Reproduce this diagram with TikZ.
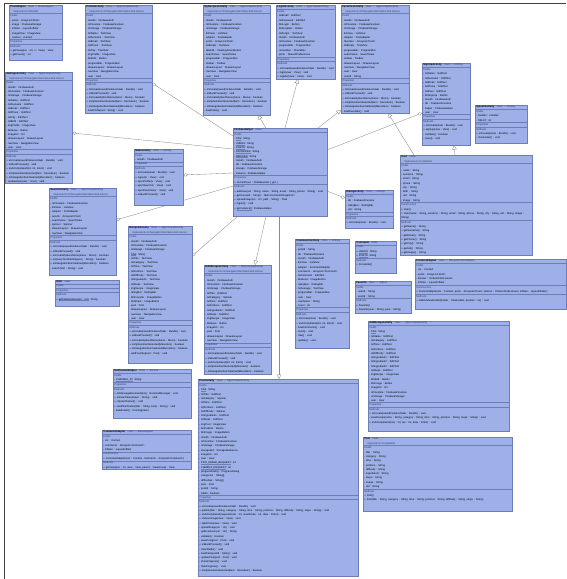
\documentclass[tikz,border=0pt]{standalone}
\usepackage{fontspec}
\newfontfamily\uf{Liberation Sans}
\usetikzlibrary{arrows.meta,calc,backgrounds}
\definecolor{boxfill}{HTML}{9DB1E8}
\definecolor{boxline}{HTML}{6E7DB5}
\definecolor{hdcol}{HTML}{2F3A60}
\definecolor{connline}{HTML}{8C8C8C}
\newcommand\uL[1]{#1\par}
\newcommand\uH[1]{\par\vspace{0.7pt}{\color{boxline}\hrule height 0.3pt}\vspace{1.2pt}{\color{hdcol}#1}\par}
\newcommand\uT[2]{\textbf{#1}\hspace{2.5pt}{\color{hdcol}#2}\par}
\newcommand\uS[1]{\hspace*{3pt}{\color{hdcol}#1}\par}
\newcommand\uU[1]{\setbox0\hbox{#1}\rlap{\raisebox{-0.5pt}{\color{boxline}\rule{\wd0}{0.08pt}}}\box0}
\newcommand\umlbox[6]{%
  \node[ubox, minimum width=#4pt, minimum height=#5pt] (#1) at (#2,#3) {};
  \node[utext, text width=#4pt] (#1-t) at (#1.north west) {\leftskip=1.2pt #6};
}
\begin{document}
\begin{tikzpicture}[x=1pt,y=-1pt,
  ubox/.style={draw=boxline, fill=boxfill, line width=0.4pt, anchor=north west, inner sep=0pt, outer sep=0pt},
  utext/.style={anchor=north west, inner xsep=0pt, inner ysep=0.8pt, align=left, font=\uf\fontsize{2.6}{4.3}\selectfont},
  conn/.style={draw=connline, line width=0.35pt},
  adia/.style={{Diamond[open,length=5pt,width=3.2pt]}-},
  atri/.style={{Triangle[open,length=4.5pt,width=4.5pt]}-}]
\useasboundingbox (0,0) rectangle (566,579);

% frame
\draw[black!75, line width=0.8pt] (4,579) -- (4,3) -- (566,3);

\umlbox{A}{9}{5}{53}{55}{%
\uT{PostAdapter}{class → BaseAdapter}
\uS{Implements Filterable}
\uH{Fields}
\uL{- posts : ArrayList<Post>}
\uL{- image : FirebaseStorage}
\uL{- inflater : LayoutInflater}
\uL{- imageView : ImageView}
\uL{- context : Context}
\uH{Properties}
\uH{Methods}
\uL{+ getView(pos : int, v : View) : View}
\uL{+ getCount() : int}}

\umlbox{B}{85}{5}{67}{108}{%
\uT{ProfileActivity}{class → AppCompatActivity}
\uS{Implements OnNavigationItemSelectedListener}
\uH{Fields}
\uL{- mAuth : FirebaseAuth}
\uL{- mFirestore : FirebaseFirestore}
\uL{- mStorage : FirebaseStorage}
\uL{- txtName : TextView}
\uL{- txtSurname : TextView}
\uL{- txtEmail : TextView}
\uL{- txtPhone : TextView}
\uL{- txtCity : TextView}
\uL{- imgProfile : ImageView}
\uL{- btnEdit : Button}
\uL{- progressBar : ProgressBar}
\uL{- drawerLayout : DrawerLayout}
\uL{- navView : NavigationView}
\uL{- user : User}
\uH{Properties}
\uH{Methods}
\uL{+ onCreate(savedInstanceState : Bundle) : void}
\uL{+ onBackPressed() : void}
\uL{+ onCreateOptionsMenu(menu : Menu) : boolean}
\uL{+ onOptionsItemSelected(item : MenuItem) : boolean}
\uL{+ onNavigationItemSelected(MenuItem) : boolean}
\uL{- loadProfile(uid : String) : void}}

\umlbox{C}{5}{72}{67}{111}{%
\uT{SettingsActivity}{class → AppCompatActivity}
\uS{Implements OnNavigationItemSelectedListener}
\uH{Fields}
\uL{- mAuth : FirebaseAuth}
\uL{- mFirestore : FirebaseFirestore}
\uL{- mStorage : FirebaseStorage}
\uL{- txtName : EditText}
\uL{- txtSurname : EditText}
\uL{- txtEmail : EditText}
\uL{- txtPhone : EditText}
\uL{- txtCity : EditText}
\uL{- txtBirth : EditText}
\uL{- imgProfile : ImageView}
\uL{- btnSave : Button}
\uL{- imageUri : Uri}
\uL{- drawerLayout : DrawerLayout}
\uL{- navView : NavigationView}
\uL{- user : User}
\uH{Properties}
\uH{Methods}
\uL{+ onCreate(savedInstanceState : Bundle) : void}
\uL{+ onBackPressed() : void}
\uL{+ onActivityResult(int, int, Intent) : void}
\uL{+ onOptionsItemSelected(item : MenuItem) : boolean}
\uL{+ onNavigationItemSelected(MenuItem) : boolean}
\uL{- updateUser(user : User) : void}}

\umlbox{D}{203}{5}{67}{110}{%
\uT{MyRecipesActivity}{class → AppCompatActivity}
\uS{Implements OnNavigationItemSelectedListener}
\uH{Fields}
\uL{- mAuth : FirebaseAuth}
\uL{- mFirestore : FirebaseFirestore}
\uL{- mStorage : FirebaseStorage}
\uL{- listView : ListView}
\uL{- adapter : PostAdapter}
\uL{- posts : ArrayList<Post>}
\uL{- txtEmpty : TextView}
\uL{- fabAdd : FloatingActionButton}
\uL{- searchView : SearchView}
\uL{- progressBar : ProgressBar}
\uL{- toolbar : Toolbar}
\uL{- drawerLayout : DrawerLayout}
\uL{- navView : NavigationView}
\uL{- user : User}
\uH{Properties}
\uH{Methods}
\uL{+ onCreate(savedInstanceState : Bundle) : void}
\uL{+ onBackPressed() : void}
\uL{+ onCreateOptionsMenu(menu : Menu) : boolean}
\uL{+ onOptionsItemSelected(item : MenuItem) : boolean}
\uL{+ onNavigationItemSelected(MenuItem) : boolean}
\uL{- loadPosts() : void}}

\umlbox{E}{276}{5}{59}{74}{%
\uT{LoginActivity}{class → AppCompatActivity}
\uH{Fields}
\uL{- txtEmail : EditText}
\uL{- txtPassword : EditText}
\uL{- btnLogin : Button}
\uL{- btnRegister : Button}
\uL{- txtForgot : TextView}
\uL{- mAuth : FirebaseAuth}
\uL{- mFirestore : FirebaseFirestore}
\uL{- progressBar : ProgressBar}
\uL{- remember : CheckBox}
\uL{- prefs : SharedPreferences}
\uH{Properties}
\uH{Methods}
\uL{+ onCreate(savedInstanceState : Bundle) : void}
\uL{+ login(view : View) : void}
\uL{+ register(view : View) : void}}

\umlbox{F}{341}{5}{68}{108}{%
\uT{FavoritesActivity}{class → AppCompatActivity}
\uS{Implements OnNavigationItemSelectedListener}
\uH{Fields}
\uL{- mAuth : FirebaseAuth}
\uL{- mFirestore : FirebaseFirestore}
\uL{- mStorage : FirebaseStorage}
\uL{- listView : ListView}
\uL{- adapter : PostAdapter}
\uL{- favorites : ArrayList<Post>}
\uL{- txtEmpty : TextView}
\uL{- progressBar : ProgressBar}
\uL{- searchView : SearchView}
\uL{- toolbar : Toolbar}
\uL{- drawerLayout : DrawerLayout}
\uL{- navView : NavigationView}
\uL{- user : User}
\uL{- userId : String}
\uH{Properties}
\uH{Methods}
\uL{+ onCreate(savedInstanceState : Bundle) : void}
\uL{+ onBackPressed() : void}
\uL{+ onCreateOptionsMenu(menu : Menu) : boolean}
\uL{+ onOptionsItemSelected(item : MenuItem) : boolean}
\uL{+ onNavigationItemSelected(MenuItem) : boolean}
\uL{- loadFavorites() : void}}

\umlbox{G}{233}{128}{94}{88}{%
\uT{FirebaseHelper}{class}
\uH{Fields}
\uL{- \uU{TAG} : String}
\uL{- \uU{USERS} : String}
\uL{- \uU{POSTS} : String}
\uL{- \uU{FAVORITES} : String}
\uL{- \uU{RECIPES} : String}
\uL{- mAuth : FirebaseAuth}
\uL{- db : FirebaseFirestore}
\uL{- storage : FirebaseStorage}
\uL{- \uU{instance} : FirebaseHelper}
\uH{Properties}
\uL{+ CurrentUser : FirebaseUser \{ get; \}}
\uH{Methods}
\uL{+ addUser(uid : String, name : String, email : String, phone : String) : void}
\uL{+ getUser(uid : String) : Task<DocumentSnapshot>}
\uL{+ uploadImage(uri : Uri, path : String) : Task}
\uL{+ logout() : void}
\uL{+ \uU{getInstance()} : FirebaseHelper}}

\umlbox{H}{422}{63}{48}{82}{%
\uT{SignUpActivity}{class → Activity}
\uH{Fields}
\uL{- txtName : EditText}
\uL{- txtSurname : EditText}
\uL{- txtEmail : EditText}
\uL{- txtPhone : EditText}
\uL{- txtPass : EditText}
\uL{- btnSignUp : Button}
\uL{- mAuth : FirebaseAuth}
\uL{- db : FirebaseFirestore}
\uL{- helper : FirebaseHelper}
\uL{- user : User}
\uH{Properties}
\uH{Methods}
\uL{+ onCreate(state : Bundle) : void}
\uL{+ signUp(view : View) : void}
\uL{- validate() : boolean}
\uL{- clear() : void}}

\umlbox{I}{475}{105}{52}{38}{%
\uT{SplashActivity}{class → Activity}
\uH{Fields}
\uL{- handler : Handler}
\uL{- \uU{DELAY} : int}
\uH{Properties}
\uH{Methods}
\uL{+ onCreate(state : Bundle) : void}
\uL{- checkUser() : void}}

\umlbox{J}{134}{149}{49}{56}{%
\uT{MainActivity}{class → Activity}
\uH{Fields}
\uL{- mAuth : FirebaseAuth}
\uH{Properties}
\uH{Methods}
\uL{+ onCreate(state : Bundle) : void}
\uL{+ logout(v : View) : void}
\uL{+ openProfile(v : View) : void}
\uL{+ openSearch(v : View) : void}
\uL{+ openFavorites(v : View) : void}
\uL{+ onBackPressed() : void}}

\umlbox{K}{49}{188}{67}{87}{%
\uT{SearchActivity}{class → AppCompatActivity}
\uS{Implements OnNavigationItemSelectedListener}
\uH{Fields}
\uL{- mFirestore : FirebaseFirestore}
\uL{- listView : ListView}
\uL{- adapter : PostAdapter}
\uL{- results : ArrayList<Post>}
\uL{- searchView : SearchView}
\uL{- spinner : Spinner}
\uL{- drawerLayout : DrawerLayout}
\uL{- navView : NavigationView}
\uH{Properties}
\uH{Methods}
\uL{+ onCreate(savedInstanceState : Bundle) : void}
\uL{+ onBackPressed() : void}
\uL{+ onCreateOptionsMenu(menu : Menu) : boolean}
\uL{+ onQueryTextSubmit(query : String) : boolean}
\uL{+ onNavigationItemSelected(MenuItem) : boolean}
\uL{- search(text : String) : void}}

\umlbox{L}{128}{226}{64}{137}{%
\uT{RecipesActivity}{class → AppCompatActivity}
\uS{Implements OnNavigationItemSelectedListener}
\uH{Fields}
\uL{- mAuth : FirebaseAuth}
\uL{- mFirestore : FirebaseFirestore}
\uL{- mStorage : FirebaseStorage}
\uL{- \uU{TAG} : String}
\uL{- txtTitle : TextView}
\uL{- txtCategory : TextView}
\uL{- txtTime : TextView}
\uL{- txtPortions : TextView}
\uL{- txtDifficulty : TextView}
\uL{- txtIngredients : TextView}
\uL{- txtSteps : TextView}
\uL{- imgRecipe : ImageView}
\uL{- ratingBar : RatingBar}
\uL{- btnFavorite : ImageButton}
\uL{- btnShare : ImageButton}
\uL{- post : Post}
\uL{- drawerLayout : DrawerLayout}
\uL{- navView : NavigationView}
\uL{- user : User}
\uH{Properties}
\uH{Methods}
\uL{+ onCreate(savedInstanceState : Bundle) : void}
\uL{+ onBackPressed() : void}
\uL{+ onCreateOptionsMenu(menu : Menu) : boolean}
\uL{+ onOptionsItemSelected(MenuItem) : boolean}
\uL{+ onNavigationItemSelected(MenuItem) : boolean}
\uL{- addFavorite(post : Post) : void}}

\umlbox{M}{55}{280}{64}{26}{%
\uT{Utils}{class}
\uH{Fields}
\uH{Properties}
\uH{Methods}
\uL{+ \uU{getFileExtension(uri : Uri)} : String}}

\umlbox{N}{345}{190}{48}{38}{%
\uT{RatingActivity}{class → Activity}
\uH{Fields}
\uL{- db : FirebaseFirestore}
\uL{- ratingBar : RatingBar}
\uL{- uid : String}
\uH{Properties}
\uH{Methods}
\uL{+ onCreate(state : Bundle) : void}}

\umlbox{O}{204}{265}{67}{109}{%
\uT{EditRecipeActivity}{class → AppCompatActivity}
\uS{Implements OnNavigationItemSelectedListener}
\uH{Fields}
\uL{- mAuth : FirebaseAuth}
\uL{- mFirestore : FirebaseFirestore}
\uL{- mStorage : FirebaseStorage}
\uL{- txtTitle : EditText}
\uL{- txtCategory : Spinner}
\uL{- txtTime : EditText}
\uL{- txtPortions : EditText}
\uL{- txtIngredients : EditText}
\uL{- txtSteps : EditText}
\uL{- imgRecipe : ImageView}
\uL{- btnSave : Button}
\uL{- imageUri : Uri}
\uL{- post : Post}
\uL{- drawerLayout : DrawerLayout}
\uL{- navView : NavigationView}
\uH{Properties}
\uH{Methods}
\uL{+ onCreate(savedInstanceState : Bundle) : void}
\uL{+ onBackPressed() : void}
\uL{+ onActivityResult(int, int, Intent) : void}
\uL{+ onOptionsItemSelected(MenuItem) : boolean}
\uL{+ onNavigationItemSelected(MenuItem) : boolean}}

\umlbox{P}{295}{239}{54}{109}{%
\uT{CommentsActivity}{class → Activity}
\uH{Fields}
\uL{- postId : String}
\uL{- db : FirebaseFirestore}
\uL{- mAuth : FirebaseAuth}
\uL{- listView : ListView}
\uL{- adapter : CommentAdapter}
\uL{- comments : ArrayList<Comment>}
\uL{- txtComment : EditText}
\uL{- btnSend : ImageButton}
\uL{- ratingBar : RatingBar}
\uL{- txtAverage : TextView}
\uL{- progressBar : ProgressBar}
\uL{- user : User}
\uL{- userName : String}
\uL{- count : int}
\uH{Properties}
\uH{Methods}
\uL{+ onCreate(state : Bundle) : void}
\uL{+ onActivityResult(int, int, Intent) : void}
\uL{- loadComments() : void}
\uL{- send() : void}
\uL{- rate() : void}
\uL{- update() : void}}

\umlbox{Q}{355}{241}{41}{32}{%
\uT{Constants}{class}
\uH{Fields}
\uL{+ \uU{USERS} : String}
\uL{+ \uU{POSTS} : String}
\uH{Methods}
\uL{+ Constants()}}

\umlbox{R}{355}{281}{56}{32}{%
\uT{Favorite}{class → Object}
\uH{Fields}
\uL{- userId : String}
\uL{- postId : String}
\uH{Methods}
\uL{+ Favorite()}
\uL{+ Favorite(user : String, post : String)}}

\umlbox{S}{400}{155}{132}{100}{%
\uT{User}{class}
\uS{Implements Serializable}
\uH{Fields}
\uL{- name : String}
\uL{- surname : String}
\uL{- email : String}
\uL{- phone : String}
\uL{- city : String}
\uL{- birth : String}
\uL{- uid : String}
\uL{- image : String}
\uH{Constructors}
\uL{+ User()}
\uL{+ User(name : String, surname : String, email : String, phone : String, city : String, uid : String, image : String)}
\uH{Methods}
\uL{+ getName() : String}
\uL{+ getSurname() : String}
\uL{+ getEmail() : String}
\uL{+ getPhone() : String}
\uL{+ getCity() : String}
\uL{+ getUid() : String}
\uL{+ getImage() : String}}

\umlbox{T}{415}{259}{151}{50}{%
\uT{PostListAdapter}{class → RecyclerView.Adapter}
\uH{Fields}
\uL{- ctx : Context}
\uL{- posts : ArrayList<Post>}
\uL{- listener : OnItemClickListener}
\uL{- inflater : LayoutInflater}
\uH{Constructors}
\uL{+ PostListAdapter(ctx : Context, posts : ArrayList<Post>, listener : OnItemClickListener, inflater : LayoutInflater)}
\uH{Methods}
\uL{+ onBindViewHolder(holder : ViewHolder, position : int) : void}}

\umlbox{U}{368}{321}{141}{110}{%
\uT{AddRecipeActivity}{class → AppCompatActivity}
\uH{Fields}
\uL{- \uU{TAG} : String}
\uL{- txtName : EditText}
\uL{- txtCategory : EditText}
\uL{- txtTime : EditText}
\uL{- txtPortions : EditText}
\uL{- txtDifficulty : EditText}
\uL{- txtIngredient1 : EditText}
\uL{- txtIngredient2 : EditText}
\uL{- txtIngredient3 : EditText}
\uL{- txtSteps : EditText}
\uL{- imgRecipe : ImageView}
\uL{- btnAdd : Button}
\uL{- btnImage : Button}
\uL{- imageUri : Uri}
\uL{- mFirestore : FirebaseFirestore}
\uL{- mStorage : FirebaseStorage}
\uL{- user : User}
\uH{Properties}
\uH{Methods}
\uL{+ onCreate(savedInstanceState : Bundle) : void}
\uL{- saveRecipe(name : String, category : String, time : String, portions : String, steps : String) : void}
\uL{+ onActivityResult(req : int, res : int, data : Intent) : void}}

\umlbox{V}{363}{437}{149}{74}{%
\uT{Post}{class}
\uS{Implements Serializable}
\uH{Fields}
\uL{- title : String}
\uL{- category : String}
\uL{- time : String}
\uL{- portions : String}
\uL{- difficulty : String}
\uL{- ingredients : String}
\uL{- steps : String}
\uL{- image : String}
\uL{- uid : String}
\uH{Methods}
\uL{+ Post()}
\uL{+ Post(title : String, category : String, time : String, portions : String, difficulty : String, steps : String)}}

\umlbox{W}{113}{369}{78}{49}{%
\uT{NotificationHelper}{class → Service}
\uH{Fields}
\uL{- \uU{CHANNEL\_ID} : String}
\uH{Properties}
\uH{Methods}
\uL{+ onMessageReceived(msg : RemoteMessage) : void}
\uL{+ onNewToken(token : String) : void}
\uL{+ createChannel() : void}
\uL{+ sendNotification(title : String, body : String) : void}
\uL{- buildIntent() : PendingIntent}}

\umlbox{X}{102}{430}{89}{39}{%
\uT{CommentAdapter}{class → BaseAdapter}
\uH{Fields}
\uL{- ctx : Context}
\uL{- comments : ArrayList<Comment>}
\uL{- inflater : LayoutInflater}
\uH{Constructors}
\uL{+ CommentAdapter(ctx : Context, comments : ArrayList<Comment>)}
\uH{Methods}
\uL{+ getView(pos : int, view : View, parent : ViewGroup) : View}}

\umlbox{Y}{198}{379}{160}{197}{%
\uT{PostActivity}{class → AppCompatActivity}
\uH{Fields}
\uL{- \uU{TAG} : String}
\uL{- txtTitle : EditText}
\uL{- txtCategory : Spinner}
\uL{- txtTime : EditText}
\uL{- txtPortions : EditText}
\uL{- txtDifficulty : Spinner}
\uL{- txtIngredients : EditText}
\uL{- txtSteps : EditText}
\uL{- imgPost : ImageView}
\uL{- btnPublish : Button}
\uL{- btnImage : ImageButton}
\uL{- mAuth : FirebaseAuth}
\uL{- mFirestore : FirebaseFirestore}
\uL{- mStorage : FirebaseStorage}
\uL{- storageRef : StorageReference}
\uL{- imageUri : Uri}
\uL{- user : User}
\uL{- \uU{PICK\_IMAGE\_REQUEST} : int}
\uL{- \uU{CAMERA\_REQUEST} : int}
\uL{- progressDialog : ProgressDialog}
\uL{- categories : String[]}
\uL{- difficulties : String[]}
\uL{- post : Post}
\uL{- postId : String}
\uL{- isEdit : boolean}
\uH{Properties}
\uH{Methods}
\uL{+ onCreate(savedInstanceState : Bundle) : void}
\uL{+ publish(title : String, category : String, time : String, portions : String, difficulty : String, steps : String) : void}
\uL{+ onActivityResult(requestCode : int, resultCode : int, data : Intent) : void}
\uL{+ chooseImage(view : View) : void}
\uL{+ takePhoto(view : View) : void}
\uL{- uploadImage(uri : Uri) : void}
\uL{- getExtension(uri : Uri) : String}
\uL{- validate() : boolean}
\uL{- savePost(post : Post) : void}
\uL{+ onBackPressed() : void}
\uL{- clearFields() : void}
\uL{- loadPost(postId : String) : void}
\uL{- updatePost(post : Post) : void}
\uL{- showProgress() : void}
\uL{- hideProgress() : void}
\uL{+ onOptionsItemSelected(item : MenuItem) : boolean}}

\begin{pgfonlayer}{background}
\fill[white] (0,0) rectangle (566,579);
\draw[conn, adia] ($(B.north east)+(0,78)$) -- ($(G.north west)+(0,8)$);
\draw[conn, adia] ($(C.north east)+(0,61)$) -- ($(G.north west)+(0,21)$);
\draw[conn, atri] ($(D.south west)+(55,0)$) -- ($(G.north west)+(33,0)$);
\draw[conn, atri] ($(E.south west)+(22,0)$) -- ($(G.north west)+(52,0)$);
\draw[conn, atri] ($(F.south west)+(0,-3)$) -- ($(G.north west)+(85,0)$);
\draw[conn, adia] ($(H.north west)+(0,50)$) -- ($(G.north east)+(0,22)$);
\draw[conn, atri] ($(F.south west)+(47,0)$) -- ($(S.north west)+(14,0)$);
\draw[conn, atri] ($(H.south west)+(32,0)$) -- ($(S.north west)+(55,0)$);
\draw[conn, adia] ($(N.north west)+(0,8)$) -- ($(G.north east)+(0,63)$);
\draw[conn, adia] ($(J.north east)+(0,26)$) -- ($(G.north west)+(0,45)$);
\draw[conn, adia] ($(K.north east)+(0,32)$) -- ($(G.north west)+(0,58)$);
\draw[conn, adia] ($(L.north east)+(0,30)$) -- ($(G.south west)+(5,0)$);
\draw[conn, atri] ($(O.north west)+(51,0)$) -- ($(G.south west)+(33,0)$);
\draw[conn, atri] ($(Y.north west)+(81,0)$) -- ($(G.south west)+(46,0)$);
\end{pgfonlayer}
\end{tikzpicture}
\end{document}
